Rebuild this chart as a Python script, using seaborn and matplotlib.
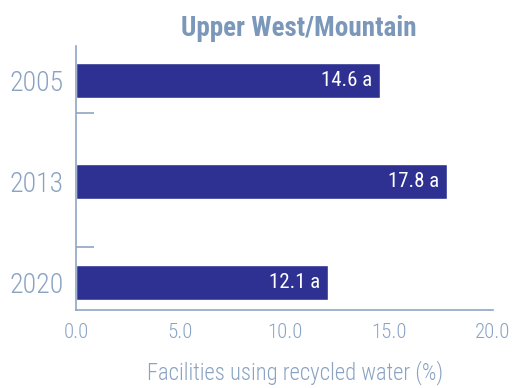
import matplotlib
matplotlib.use("Agg")
import matplotlib.pyplot as plt
from matplotlib import font_manager
import seaborn as sns
import pandas as pd

years = ["2005", "2013", "2020"]
values = [14.6, 17.8, 12.1]
letters = ["a", "a", "a"]
x_ticks = [0.0, 5.0, 10.0, 15.0, 20.0]

sns.set_theme(style="white")
names = {f.name for f in font_manager.fontManager.ttflist}
narrow = next((n for n in ["Roboto Condensed", "Archivo Narrow", "Barlow Condensed",
                           "Asap Condensed"] if n in names), "DejaVu Sans")
plt.rcParams["font.family"] = [narrow, "DejaVu Sans"]

bar_color = "#2E3192"
text_color = "#8AA3C3"
title_color = "#7B97B9"
spine_color = "#8EA5C5"

df = pd.DataFrame({"year": years, "value": values})

fig = plt.figure(figsize=(5.15, 3.88), dpi=100)
ax = fig.add_axes([76 / 515, 1 - 310 / 388, (493 - 76) / 515, (310 - 46) / 388])

sns.barplot(data=df, y="year", x="value", orient="h", color=bar_color,
            saturation=1, width=0.34, ax=ax)

ax.set_xlim(0, 20)
ax.set_ylim(2.27, -0.34)
ax.set_xticks(x_ticks)
ax.set_xticklabels([f"{t:.1f}" for t in x_ticks], fontsize=15, color=text_color,
                   fontweight="light")
ax.set_yticks(range(len(years)))
ax.set_yticklabels(years, fontsize=20, color=text_color, fontweight="light")
ax.tick_params(axis="y", length=0, pad=9)
ax.tick_params(axis="x", direction="in", length=5, width=1.2, color=spine_color, pad=9)

# short separator ticks between the groups
ax.set_yticks([0.32, 1.65], minor=True)
ax.tick_params(axis="y", which="minor", direction="in", length=13, width=1.2,
               color=spine_color, left=True)

for s in ["top", "right"]:
    ax.spines[s].set_visible(False)
for s in ["left", "bottom"]:
    ax.spines[s].set_color(spine_color)
    ax.spines[s].set_linewidth(1.2)

for i, (v, l) in enumerate(zip(values, letters)):
    ax.text(v - 0.4, i, f"{v:.1f} {l}", color="white", fontsize=15,
            ha="right", va="center")

ax.set_ylabel("")
ax.set_xlabel("Facilities using recycled water (%)", fontsize=16.3,
              color=text_color, fontweight="light")
ax.xaxis.set_label_coords(0.525, -0.19)

fig.text(299 / 515, 1 - 28 / 388, "Upper West/Mountain", fontsize=19.5,
         fontweight="bold", color=title_color, ha="center", va="center")

fig.savefig("out.png", dpi=100)
